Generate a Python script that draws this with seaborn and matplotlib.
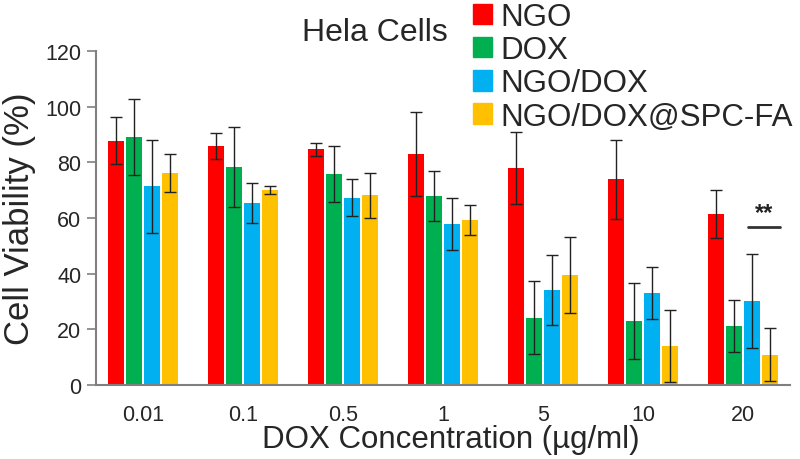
import numpy as np
import pandas as pd
import matplotlib
matplotlib.use("Agg")
import matplotlib.pyplot as plt
import matplotlib.patches as mpatches
import seaborn as sns

# ── Data ──────────────────────────────────────────
concentrations = ["0.01", "0.1", "0.5", "1", "5", "10", "20"]
groups = ["NGO", "DOX", "NGO/DOX", "NGO/DOX@SPC-FA"]
colors = ["#FF0000", "#00B050", "#00B0F0", "#FFC000"]

ngo = [87.8, 85.9, 84.6, 83.0, 77.9, 73.9, 61.4]
ngo_err = [8.4, 4.8, 2.5, 15.0, 12.9, 14.1, 8.5]
dox = [89.2, 78.2, 75.8, 67.8, 24.1, 22.9, 21.3]
dox_err = [13.6, 14.4, 10.2, 9.0, 13.1, 13.7, 9.3]
ngo_dox = [71.4, 65.4, 67.3, 57.9, 34.1, 32.9, 30.2]
ngo_dox_err = [16.7, 7.1, 6.6, 9.4, 12.6, 9.3, 16.8]
spc_fa = [76.2, 70.1, 68.1, 59.3, 39.6, 14.1, 10.9]
spc_fa_err = [6.8, 1.4, 8.1, 5.3, 13.7, 12.9, 9.6]

yticks = [0, 20, 40, 60, 80, 100, 120]

means = [ngo, dox, ngo_dox, spc_fa]
errs = [ngo_err, dox_err, ngo_dox_err, spc_fa_err]

df = pd.DataFrame({
    "conc": concentrations * len(groups),
    "group": np.repeat(groups, len(concentrations)),
    "viability": np.concatenate(means),
})

# ── Style ─────────────────────────────────────────
sns.set_style("ticks")
plt.rcParams["font.family"] = ["Liberation Sans", "DejaVu Sans"]

fig = plt.figure(figsize=(8, 4.6), dpi=100)
ax = fig.add_axes([0.12, 0.161, 0.8675, 0.726])

sns.barplot(data=df, x="conc", y="viability", hue="group",
            order=concentrations, hue_order=groups, palette=colors,
            saturation=1, width=0.72, gap=0.15, errorbar=None, linewidth=0,
            legend=False, ax=ax)

# error bars from bar centres
for cont, err in zip(ax.containers, errs):
    xs = [b.get_x() + b.get_width() / 2 for b in cont]
    hs = [b.get_height() for b in cont]
    ax.errorbar(xs, hs, yerr=err, fmt="none", ecolor="#222222",
                elinewidth=1, capsize=4, capthick=1, zorder=3)

# significance mark at 20 µg/ml
b_blue = ax.containers[2][-1]
b_yel = ax.containers[3][-1]
x0 = b_blue.get_x() + 0.04
x1 = b_yel.get_x() + b_yel.get_width() + 0.02
ax.plot([x0, x1], [56.8, 56.8], color="#333333", lw=2)
ax.text((x0 + x1) / 2, 62, "**", ha="center", va="center",
        fontsize=17, fontweight="bold", color="#222222")

ax.set_ylim(0, 120)
ax.set_xlim(-0.47, 6.47)
ax.set_yticks(yticks)
ax.tick_params(axis="y", labelsize=15.5, length=6.5, width=1.2,
               color="#808080", pad=4)
ax.tick_params(axis="x", labelsize=15.5, length=0, pad=14)
for s in ["top", "right"]:
    ax.spines[s].set_visible(False)
for s in ["left", "bottom"]:
    ax.spines[s].set_color("#808080")
    ax.spines[s].set_linewidth(1.5)

ax.set_xlabel("DOX Concentration (µg/ml)", fontsize=22.5)
ax.xaxis.set_label_coords((451 - 96) / 694, -0.117)
ax.set_ylabel("Cell Viability (%)", fontsize=25)
ax.yaxis.set_label_coords(-0.087, 0.5)

fig.text(375 / 800, 1 - 33 / 460, "Hela Cells", ha="center", va="center",
         fontsize=23)

handles = [mpatches.Patch(color=c, label=g) for c, g in zip(colors, groups)]
fig.legend(handles=handles, loc="upper left", bbox_to_anchor=(473 / 800, 0.993),
           frameon=False, fontsize=22.5, handlelength=0.62, handleheight=0.62,
           handletextpad=0.25, labelspacing=0.1, borderpad=0, borderaxespad=0)

fig.savefig("out.png", dpi=100)
